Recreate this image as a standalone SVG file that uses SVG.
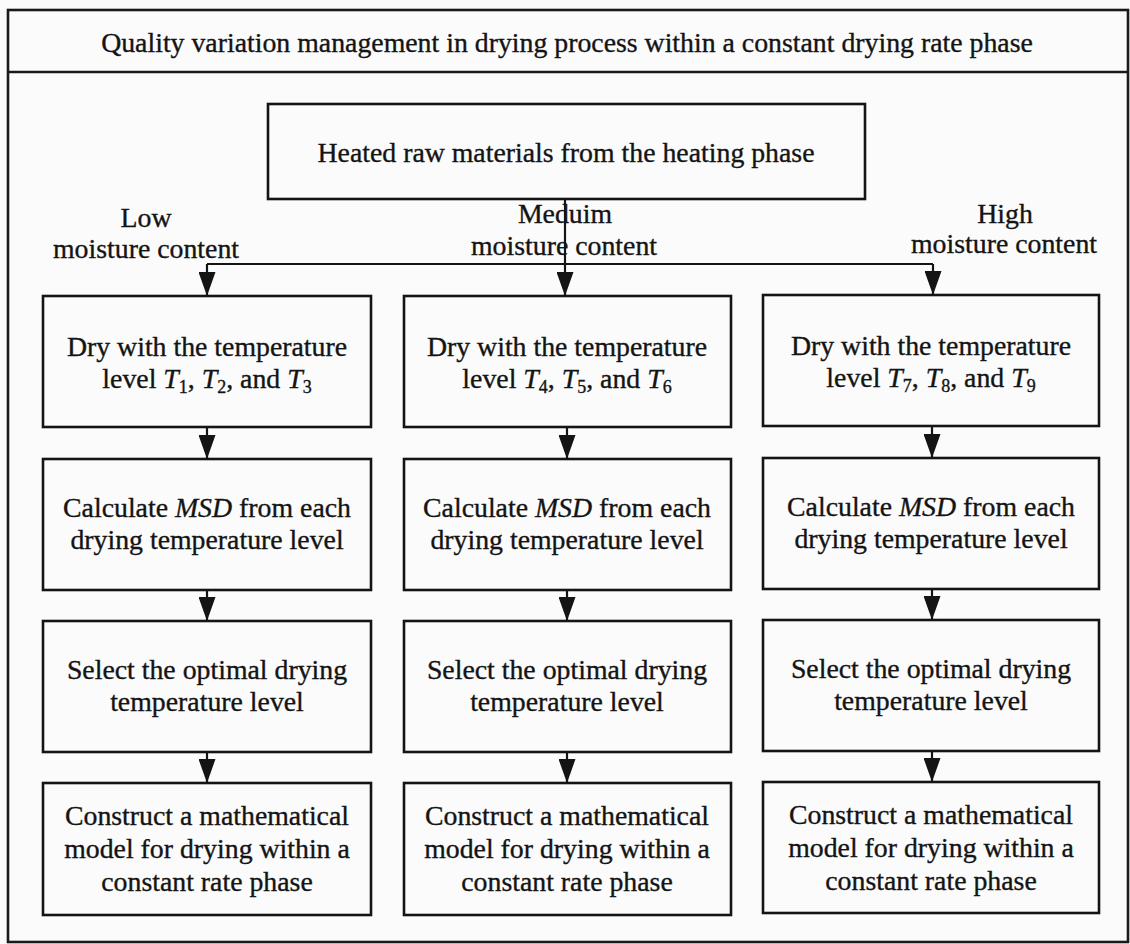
<svg xmlns="http://www.w3.org/2000/svg" width="1130" height="944" viewBox="0 0 1130 944">
  <style>
    text { font-family: "Liberation Serif", "Times New Roman", serif; font-size: 27.8px; fill: #141414; stroke: #141414; stroke-width: 0.35; text-anchor: middle; }
    .box { fill: none; stroke: #141414; stroke-width: 2.6; }
    .frame { fill: none; stroke: #1a1a1a; stroke-width: 2.6; }
    .wire { fill: none; stroke: #141414; stroke-width: 2.2; }
    .it { font-style: italic; }
    .sub { font-size: 18px; }
  </style>
  <defs>
    <!-- downward arrowhead, drawn along +x so orient="auto" turns it to the line direction -->
    <marker id="arrow" viewBox="0 0 24 17" refX="24" refY="8.5" markerWidth="24" markerHeight="17" markerUnits="userSpaceOnUse" orient="auto">
      <path d="M0,0 L24,8.5 L0,17 Z" fill="#141414"/>
    </marker>
  </defs>

  <rect x="0" y="0" width="1130" height="944" fill="#fbfbfb"/>

  <!-- outer frame and title band -->
  <g id="frame">
    <rect class="frame" x="8" y="10" width="1120" height="932"/>
    <line class="frame" x1="8" y1="72" x2="1128" y2="72"/>
    <text x="567" y="52">Quality variation management in drying process within a constant drying rate phase</text>
  </g>

  <!-- source node -->
  <g id="heated">
    <rect class="box" x="268" y="104" width="597" height="95"/>
    <text x="566" y="162">Heated raw materials from the heating phase</text>
  </g>

  <!-- branch labels -->
  <g id="label-low">
    <text x="146" y="227">Low</text>
    <text x="146" y="258">moisture content</text>
  </g>
  <g id="label-medium">
    <text x="565" y="223">Meduim</text>
    <text x="564" y="255">moisture content</text>
  </g>
  <g id="label-high">
    <text x="1005" y="223">High</text>
    <text x="1004" y="253">moisture content</text>
  </g>

  <!-- connectors -->
  <g id="connectors">
    <line class="wire" x1="207" y1="264" x2="933" y2="264"/>
    <line class="wire" x1="565" y1="199" x2="565" y2="296" marker-end="url(#arrow)"/>
    <line class="wire" x1="207" y1="264" x2="207" y2="296" marker-end="url(#arrow)"/>
    <line class="wire" x1="933" y1="264" x2="933" y2="295" marker-end="url(#arrow)"/>

    <line class="wire" x1="207" y1="427" x2="207" y2="459" marker-end="url(#arrow)"/>
    <line class="wire" x1="207" y1="590" x2="207" y2="621" marker-end="url(#arrow)"/>
    <line class="wire" x1="207" y1="752" x2="207" y2="783" marker-end="url(#arrow)"/>

    <line class="wire" x1="567" y1="427" x2="567" y2="459" marker-end="url(#arrow)"/>
    <line class="wire" x1="567" y1="590" x2="567" y2="621" marker-end="url(#arrow)"/>
    <line class="wire" x1="567" y1="752" x2="567" y2="783" marker-end="url(#arrow)"/>

    <line class="wire" x1="932" y1="426" x2="932" y2="458" marker-end="url(#arrow)"/>
    <line class="wire" x1="932" y1="589" x2="932" y2="620" marker-end="url(#arrow)"/>
    <line class="wire" x1="932" y1="751" x2="932" y2="782" marker-end="url(#arrow)"/>
  </g>

  <!-- low moisture column -->
  <g id="low-dry">
    <rect class="box" x="43" y="296" width="328" height="131"/>
    <text x="207" y="356">Dry with the temperature</text>
    <text x="207" y="388">level <tspan class="it">T</tspan><tspan class="sub" dy="5">1</tspan><tspan dy="-5">, </tspan><tspan class="it">T</tspan><tspan class="sub" dy="5">2</tspan><tspan dy="-5">, and </tspan><tspan class="it">T</tspan><tspan class="sub" dy="5">3</tspan></text>
  </g>
  <g id="low-msd">
    <rect class="box" x="43" y="459" width="328" height="131"/>
    <text x="207" y="517">Calculate <tspan class="it">MSD</tspan> from each</text>
    <text x="207" y="549">drying temperature level</text>
  </g>
  <g id="low-select">
    <rect class="box" x="43" y="621" width="328" height="131"/>
    <text x="207" y="679">Select the optimal drying</text>
    <text x="207" y="711">temperature level</text>
  </g>
  <g id="low-model">
    <rect class="box" x="43" y="783" width="328" height="132"/>
    <text x="207" y="825">Construct a mathematical</text>
    <text x="207" y="858">model for drying within a</text>
    <text x="207" y="891">constant rate phase</text>
  </g>

  <!-- medium moisture column -->
  <g id="med-dry">
    <rect class="box" x="404" y="296" width="327" height="131"/>
    <text x="567" y="356">Dry with the temperature</text>
    <text x="567" y="388">level <tspan class="it">T</tspan><tspan class="sub" dy="5">4</tspan><tspan dy="-5">, </tspan><tspan class="it">T</tspan><tspan class="sub" dy="5">5</tspan><tspan dy="-5">, and </tspan><tspan class="it">T</tspan><tspan class="sub" dy="5">6</tspan></text>
  </g>
  <g id="med-msd">
    <rect class="box" x="404" y="459" width="327" height="131"/>
    <text x="567" y="517">Calculate <tspan class="it">MSD</tspan> from each</text>
    <text x="567" y="549">drying temperature level</text>
  </g>
  <g id="med-select">
    <rect class="box" x="404" y="621" width="327" height="131"/>
    <text x="567" y="679">Select the optimal drying</text>
    <text x="567" y="711">temperature level</text>
  </g>
  <g id="med-model">
    <rect class="box" x="404" y="783" width="327" height="132"/>
    <text x="567" y="825">Construct a mathematical</text>
    <text x="567" y="858">model for drying within a</text>
    <text x="567" y="891">constant rate phase</text>
  </g>

  <!-- high moisture column -->
  <g id="high-dry">
    <rect class="box" x="763" y="295" width="336" height="131"/>
    <text x="931" y="355">Dry with the temperature</text>
    <text x="931" y="387">level <tspan class="it">T</tspan><tspan class="sub" dy="5">7</tspan><tspan dy="-5">, </tspan><tspan class="it">T</tspan><tspan class="sub" dy="5">8</tspan><tspan dy="-5">, and </tspan><tspan class="it">T</tspan><tspan class="sub" dy="5">9</tspan></text>
  </g>
  <g id="high-msd">
    <rect class="box" x="763" y="458" width="336" height="131"/>
    <text x="931" y="516">Calculate <tspan class="it">MSD</tspan> from each</text>
    <text x="931" y="548">drying temperature level</text>
  </g>
  <g id="high-select">
    <rect class="box" x="763" y="620" width="336" height="131"/>
    <text x="931" y="678">Select the optimal drying</text>
    <text x="931" y="710">temperature level</text>
  </g>
  <g id="high-model">
    <rect class="box" x="763" y="782" width="336" height="131"/>
    <text x="931" y="824">Construct a mathematical</text>
    <text x="931" y="857">model for drying within a</text>
    <text x="931" y="890">constant rate phase</text>
  </g>
</svg>
